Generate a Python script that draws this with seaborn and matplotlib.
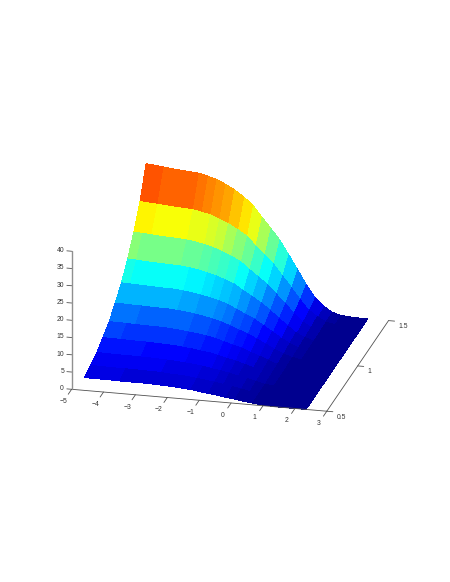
import numpy as np
import matplotlib
matplotlib.use("Agg")
import matplotlib.pyplot as plt
from matplotlib.colors import LinearSegmentedColormap
import seaborn as sns

x_vals = [-4.6, -4.32, -4.04, -3.77, -3.49, -3.21, -2.93, -2.65, -2.38, -2.10, -1.82, -1.54, -1.26,
          -0.99, -0.71, -0.43, -0.15, 0.13, 0.40, 0.68, 0.96, 1.24, 1.52, 1.79, 2.07, 2.35]
y_vals = [0.5, 0.6, 0.7, 0.8, 0.9, 1.0, 1.1, 1.2, 1.3, 1.4, 1.5]
z_y050 = [3.7, 3.7, 3.7, 3.7, 3.6, 3.6, 3.6, 3.6, 3.5, 3.4, 3.3, 3.1, 2.9, 2.5, 2.2, 1.9, 1.5, 1.2, 0.8, 0.5, 0.2, 0.1, 0, 0, 0, 0]
z_y060 = [4.6, 4.6, 4.5, 4.5, 4.5, 4.5, 4.4, 4.4, 4.3, 4.1, 4.0, 3.8, 3.5, 3.2, 2.8, 2.4, 2.0, 1.5, 1.0, 0.6, 0.3, 0.1, 0, 0, 0, 0]
z_y070 = [5.7, 5.7, 5.6, 5.6, 5.6, 5.5, 5.5, 5.4, 5.3, 5.1, 4.9, 4.7, 4.4, 3.9, 3.5, 3.0, 2.4, 1.9, 1.3, 0.7, 0.4, 0.1, 0, 0, 0, 0]
z_y080 = [7.4, 7.4, 7.3, 7.3, 7.2, 7.2, 7.1, 7.0, 6.9, 6.6, 6.4, 6.0, 5.7, 5.1, 4.5, 3.9, 3.2, 2.4, 1.6, 0.9, 0.5, 0.2, 0.1, 0, 0, 0]
z_y090 = [9.4, 9.4, 9.3, 9.2, 9.2, 9.1, 9.1, 8.9, 8.7, 8.4, 8.1, 7.7, 7.2, 6.4, 5.7, 5.0, 4.0, 3.1, 2.1, 1.2, 0.6, 0.2, 0.1, 0, 0, 0]
z_y100 = [12.2, 12.1, 12.0, 12.0, 11.9, 11.8, 11.8, 11.6, 11.3, 11.0, 10.5, 10.0, 9.3, 8.4, 7.4, 6.5, 5.2, 4.0, 2.7, 1.5, 0.8, 0.3, 0.1, 0, 0, 0]
z_y110 = [15.4, 15.3, 15.2, 15.1, 15.0, 14.9, 14.9, 14.6, 14.3, 13.8, 13.3, 12.6, 11.8, 10.5, 9.4, 8.2, 6.6, 5.0, 3.4, 2.0, 1.0, 0.4, 0.1, 0, 0, 0]
z_y120 = [19.7, 19.6, 19.4, 19.3, 19.2, 19.1, 19.0, 18.7, 18.3, 17.7, 17.0, 16.1, 15.1, 13.5, 12.0, 10.4, 8.5, 6.4, 4.4, 2.5, 1.3, 0.5, 0.2, 0.1, 0, 0]
z_y130 = [24.8, 24.7, 24.5, 24.3, 24.2, 24.1, 23.9, 23.5, 23.0, 22.3, 21.4, 20.3, 19.0, 17.0, 15.1, 13.1, 10.6, 8.1, 5.5, 3.1, 1.6, 0.6, 0.2, 0.1, 0, 0]
z_y140 = [31.1, 30.9, 30.7, 30.5, 30.3, 30.2, 30.0, 29.5, 28.9, 27.9, 26.8, 25.4, 23.8, 21.3, 18.9, 16.5, 13.3, 10.1, 6.9, 3.9, 2.1, 0.8, 0.2, 0.1, 0, 0]
z_y150 = [39.4, 39.2, 38.9, 38.6, 38.4, 38.2, 38.0, 37.3, 36.6, 35.4, 34.0, 32.2, 30.2, 27.0, 24.0, 20.9, 16.9, 12.8, 8.7, 5.0, 2.6, 1.0, 0.3, 0.1, 0, 0]

x_ticks = [-5, -4, -3, -2, -1, 0, 1, 2, 3]
y_ticks = [0.5, 1, 1.5]
z_ticks = [0, 5, 10, 15, 20, 25, 30, 35, 40]
x_labels = ["\u22125", "\u22124", "\u22123", "\u22122", "\u22121", "0", "1", "2", "3"]
y_labels = ["0.5", "1", "1.5"]
z_labels = ["0", "5", "10", "15", "20", "25", "30", "35", "40"]

sns.set_theme(style="white")
plt.rcParams["font.family"] = ["Liberation Sans", "DejaVu Sans"]

Z = np.array([z_y050, z_y060, z_y070, z_y080, z_y090, z_y100, z_y110, z_y120, z_y130, z_y140, z_y150])
X, Y = np.meshgrid(x_vals, y_vals)
cmap = LinearSegmentedColormap.from_list(
    "classic_jet",
    [(0.0, "#00008f"), (0.125, "#0000ff"), (0.375, "#00ffff"),
     (0.625, "#ffff00"), (0.875, "#ff0000"), (1.0, "#800000")],
    N=64,
)
face = cmap(Z / Z.max())

fig = plt.figure(figsize=(4.5, 5.82), dpi=100)
ax = fig.add_axes([-1 / 450, -1 / 582, 1.0, 1.0], projection="3d", proj_type="ortho")
ax.view_init(elev=20.8, azim=-76.4)
ax.set_box_aspect((1, 1, 0.5625), zoom=0.862)
ax.set_xlim(-5, 3, view_margin=0)
ax.set_ylim(0.5, 1.5, view_margin=0)
ax.set_zlim(0, 40, view_margin=0)
ax.set_axis_off()
ax.patch.set_alpha(0)

ax.plot_surface(X, Y, Z, facecolors=face, rstride=1, cstride=1, shade=False,
                linewidth=0, antialiased=False)

line = dict(color="#505050", lw=0.6, zorder=5)
x0, x1, y0, y1, z0, z1 = -5, 3, 0.5, 1.5, 0, 40
ax.plot([x0, x1], [y0, y0], [z0, z0], **line)
ax.plot([x1, x1], [y0, y1], [z0, z0], **line)
ax.plot([x0, x0], [y0, y0], [z0, z1], color="#909090", lw=1.0, zorder=5)

for v, s in zip(x_ticks, x_labels):
    ax.plot([v, v], [y0, y0 - 0.055], [z0, z0], **line)
    ax.text(v, y0 - 0.135, z0, s, fontsize=4.9, color="#333333", ha="center", va="center")
for v, s in zip(y_ticks, y_labels):
    ax.plot([x1, x1 + 0.19], [v, v], [z0, z0], **line)
    ax.text(x1 + 0.3, v, z0 - 1.5, s, fontsize=4.9, color="#333333", ha="left", va="center")
for v, s in zip(z_ticks, z_labels):
    ax.plot([x0, x0 - 0.15], [y0, y0], [v, v], **line)
    ax.text(x0 - 0.24, y0, v, s, fontsize=4.9, color="#333333", ha="right", va="center")

fig.savefig("out.png", dpi=100)
